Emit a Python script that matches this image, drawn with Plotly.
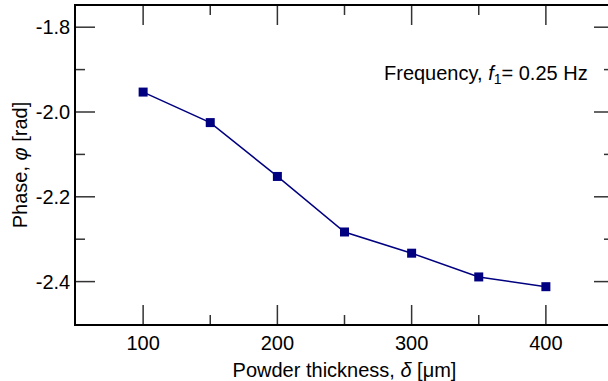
import plotly.graph_objects as go

thickness = [100, 150, 200, 250, 300, 350, 400]
phase = [-1.953, -2.025, -2.152, -2.283, -2.333, -2.389, -2.412]

x_ticks = [100, 200, 300, 400]
x_minor = [150, 250, 350]
y_ticks = [-2.4, -2.2, -2.0, -1.8]
y_tick_text = ["-2.4", "-2.2", "-2.0", "-1.8"]
y_minor = [-2.3, -2.1, -1.9]

x_range = [50, 450]
y_range = [-2.5, -1.75]

navy = "#000080"
font = "Liberation Sans, Arial, sans-serif"
tick_color = "#333333"
MAJOR_LEN = 19
MINOR_LEN = 9

fig = go.Figure()
fig.add_trace(go.Scatter(
    x=thickness, y=phase, mode="lines+markers",
    line=dict(color=navy, width=1.5),
    marker=dict(symbol="square", size=9, color=navy),
    showlegend=False,
))

axis_common = dict(
    showgrid=False, zeroline=False,
    showline=True, linecolor="black", linewidth=1.5,
    mirror=True, ticks="",
    tickfont=dict(family=font, size=20, color="black"),
)

fig.update_layout(
    xaxis=dict(
        range=x_range, tickmode="array", tickvals=x_ticks,
        title=dict(text="Powder thickness, <i>δ</i> [μm]", font=dict(family=font, size=20, color="black"), standoff=12),
        **axis_common,
    ),
    yaxis=dict(
        range=y_range, tickmode="array", tickvals=y_ticks, ticktext=y_tick_text,
        title=dict(text="Phase, <i>φ</i> [rad]", font=dict(family=font, size=20, color="black"), standoff=3),
        **axis_common,
    ),
)

# inward tick marks on all four sides, built from the tick value lists
def x_tick(val, length, at_top):
    return dict(
        type="line", xref="x", yref="y", x0=val, x1=val,
        ysizemode="pixel", yanchor=y_range[1] if at_top else y_range[0],
        y0=0, y1=-length if at_top else length,
        line=dict(color=tick_color, width=1.5), layer="above",
    )

def y_tick(val, length, at_right):
    return dict(
        type="line", xref="x", yref="y", y0=val, y1=val,
        xsizemode="pixel", xanchor=x_range[1] if at_right else x_range[0],
        x0=0, x1=-length if at_right else length,
        line=dict(color=tick_color, width=1.5), layer="above",
    )

shapes = []
for side in (False, True):
    shapes += [x_tick(v, MAJOR_LEN, side) for v in x_ticks]
    shapes += [x_tick(v, MINOR_LEN, side) for v in x_minor]
    shapes += [y_tick(v, MAJOR_LEN, side) for v in y_ticks]
    shapes += [y_tick(v, MINOR_LEN, side) for v in y_minor]
fig.update_layout(shapes=shapes)

fig.add_annotation(
    x=278, y=-1.9125, xref="x", yref="y",
    text="Frequency, <i>f</i><sub>1</sub>= 0.25 Hz",
    showarrow=False, xanchor="left", yanchor="middle",
    font=dict(family=font, size=20, color="black"),
)

fig.update_layout(
    width=616, height=381,
    margin=dict(l=76, r=1, t=6, b=55),
    paper_bgcolor="white", plot_bgcolor="white",
)

fig.write_html(
    "out.html",
    config={"displayModeBar": False},
    post_script="document.body.style.margin='0';document.body.style.overflow='hidden';document.documentElement.style.overflow='hidden';",
)
